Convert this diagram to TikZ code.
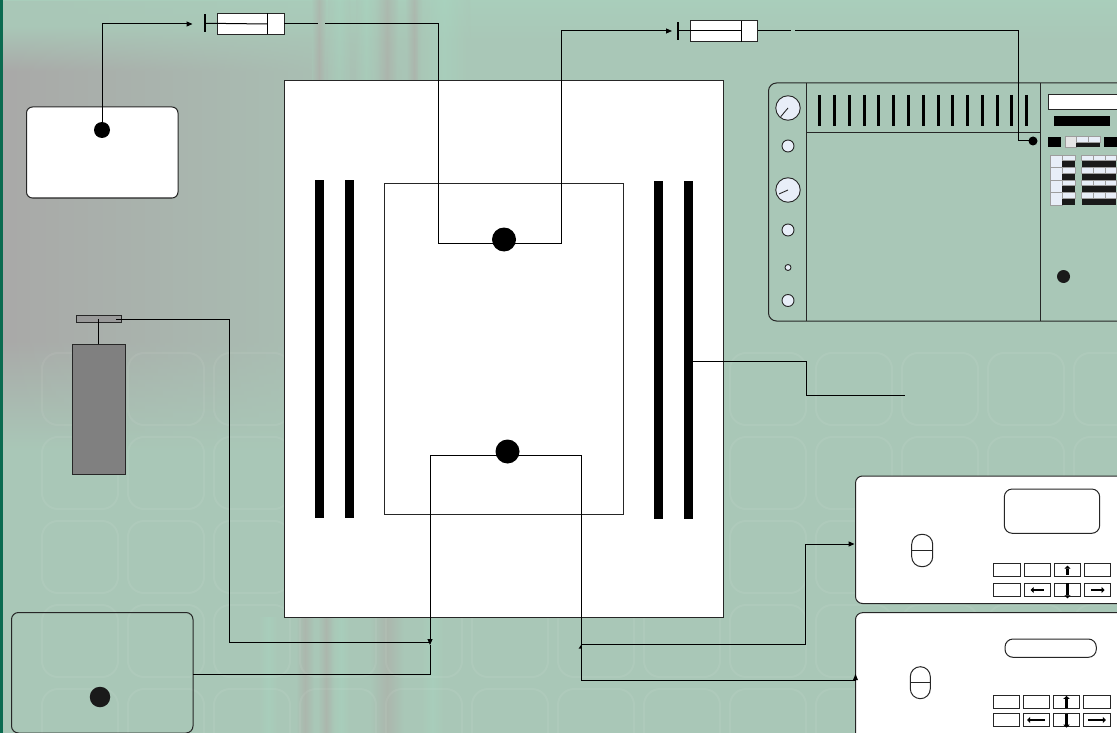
\documentclass[tikz,border=0pt]{standalone}
\usetikzlibrary{arrows.meta,fadings}
\definecolor{bggreen}{HTML}{A9C7B7}
\definecolor{bgmint}{HTML}{A8D6C0}
\definecolor{bggrey}{HTML}{A9A9A8}
\definecolor{bgpink}{HTML}{AFA4A2}
\definecolor{strip}{HTML}{0A6B50}
\definecolor{frame}{HTML}{262626}
\definecolor{pale}{HTML}{E8EEF8}
\definecolor{ink}{HTML}{1A1A1A}
\tikzfading[name=sidefade,left color=transparent!0,middle color=transparent!18,right color=transparent!100]
\pgfdeclareverticalshading{greyband}{100bp}{color(0bp)=(bggreen); color(44.3bp)=(bggreen); color(51.8bp)=(bggrey); color(70.25bp)=(bggrey); color(73.3bp)=(bggreen); color(100bp)=(bggreen)}
\newcommand{\bx}[6]{%
  \pgfmathsetmacro{\cxx}{(#3+#5)/2}\pgfmathsetmacro{\cyy}{(#4+#6)/2}%
  \pgfmathsetmacro{\wxx}{#5-#3}\pgfmathsetmacro{\hyy}{#6-#4}%
  \node[#2,minimum width=\wxx pt,minimum height=\hyy pt] (#1) at (\cxx,\cyy) {};}
\tikzset{
  x=1pt,y=-1pt,
  rect/.style={draw=frame,line width=1pt,inner sep=0pt,outer sep=0pt,rectangle},
  white box/.style={rect,fill=white},
  black box/.style={fill=black,inner sep=0pt,outer sep=0pt,rectangle},
  dark box/.style={fill=ink,inner sep=0pt,outer sep=0pt,rectangle},
  pale box/.style={draw=frame!45,line width=.4pt,fill=pale,inner sep=0pt,outer sep=0pt,rectangle},
  dot/.style={circle,fill=black,inner sep=0pt,outer sep=0pt},
  knob/.style={circle,draw=frame,line width=.9pt,fill=pale,inner sep=0pt,outer sep=0pt},
  wire/.style={draw=black,line width=1pt},
  arrowed/.style={wire,-{Triangle[length=6pt,width=5pt]}},
  glyph/.style={draw=black,line width=2.3pt,-{Triangle[length=3pt,width=6pt]}},
  tick/.style={draw=black,line width=3pt},
  tex/.style={draw=white,opacity=.06,line width=2pt,rounded corners=16pt},
  band/.style={opacity=.45,left color=bggreen,right color=bggreen,middle color=#1},
}
\begin{document}
\begin{tikzpicture}
\useasboundingbox (0,0) rectangle (1117,733);
\clip (0,0) rectangle (1117,733);
% background
\fill[bggreen] (0,0) rectangle (1117,733);
\shade[top color=bgmint!45!bggreen,bottom color=bggreen] (0,0) rectangle (1117,40);
\shade[shading=greyband,path fading=sidefade,fit fading=true] (3,0) rectangle (430,733);
\foreach \xl/\xr/\cc in {312/326/bgpink,328/350/bgmint,356/376/bgmint,376/398/bgpink,406/422/bgpink,418/470/bgmint}{
  \shade[band=\cc] (\xl,0) rectangle (\xr,82);}
\foreach \xl/\xr/\cc in {258/278/bgmint,296/314/bgpink,318/334/bgpink,332/350/bgmint,370/404/bgpink,420/445/bgmint}{
  \shade[band=\cc] (\xl,617) rectangle (\xr,733);}
\foreach \yy in {353,437,521,605,689}{
  \foreach \xx in {42,128,214,300,386,472,558,644,730,816,902,988,1074}{
    \draw[tex] (\xx,\yy) rectangle ++(76,72);}}
\fill[strip] (0,0) rectangle (3,733);

% main enclosure
\bx{chamber}{white box}{284}{81}{723}{617}
\bx{inner}{rect}{384}{184}{623}{514}
\bx{barA}{black box}{315}{180}{324}{518}
\bx{barB}{black box}{345}{180}{354}{518}
\bx{barC}{black box}{654}{181}{663}{519}
\bx{barD}{black box}{684}{181}{693}{519}

% supply box, top left
\bx{supply}{white box,rounded corners=6pt}{26.5}{107}{178}{198}
\node[dot,minimum size=16pt] (dotA) at (102,130) {};
\coordinate (tipA) at (192.5,24);
\draw[arrowed] (dotA.center) |- (tipA);

% syringe 1
\bx{stopA}{black box}{204.4}{14.5}{205.8}{32}
\bx{syrA}{white box}{217}{13.5}{284}{34.5}
\coordinate (pistA) at (267,13.5);
\coordinate (pistAb) at (267,34.5);
\draw[wire] (pistA) -- (pistAb);
\coordinate (rodA) at (267,24);
\draw[wire] (stopA.center) -- (rodA);
\coordinate (outA) at (318,24);
\draw[wire] (syrA.east |- rodA) -- (outA);

% syringe 2
\bx{stopB}{black box}{677.4}{22}{678.8}{40}
\bx{syrB}{white box}{690.5}{21}{757.5}{42}
\coordinate (pistB) at (741,21);
\coordinate (pistBb) at (741,42);
\draw[wire] (pistB) -- (pistBb);
\coordinate (rodB) at (741,31);
\draw[wire] (stopB.center) -- (rodB);
\coordinate (outB) at (791,31);
\draw[wire] (syrB.east |- rodB) -- (outB);

% upper sample
\node[dot,minimum size=24pt] (dotB) at (504,239.5) {};
\coordinate (inA) at (325,24);
\coordinate (cornA) at (438,243);
\coordinate (cornB) at (561,243);
\coordinate (tipB) at (672,31);
\draw[wire] (inA) -| (cornA) -- (dotB.center |- cornA);
\draw[arrowed] (dotB.center |- cornB) -- (cornB) |- (tipB);

% lower sample
\node[dot,minimum size=24pt] (dotC) at (507.5,451.5) {};
\coordinate (cornC) at (430,455);
\coordinate (cornD) at (581,455);
\coordinate (tipC) at (430,645);
\coordinate (cornE) at (581,680.5);
\draw[arrowed] (dotC.center |- cornC) -- (cornC) -- (tipC);
\draw[wire] (dotC.center |- cornD) -- (cornD) -- (cornE);

% panel
\draw[rect,rounded corners=8pt] (1140,83) -- (768.5,83) -- (768.5,321) -- (1140,321);
\coordinate (panelL) at (806.5,83); \coordinate (panelLb) at (806.5,321);
\coordinate (panelR) at (1040.5,83); \coordinate (panelRb) at (1040.5,321);
\draw[rect] (panelL) -- (panelLb);
\draw[rect] (panelR) -- (panelRb);
\coordinate (shelfL) at (806.5,132.5); \coordinate (shelfR) at (1040.5,132.5);
\draw[rect] (shelfL) -- (shelfR);
\foreach \i in {0,...,14}{
  \pgfmathsetmacro{\tx}{819.7+14.79*\i}
  \coordinate (tt\i) at (\tx,95); \coordinate (tb\i) at (\tx,125.7);
  \draw[tick] (tt\i) -- (tb\i);}
\node[knob,minimum size=24.5pt] (dialA) at (788,108) {};
\node[knob,minimum size=12pt] (knobA) at (788,146) {};
\node[knob,minimum size=24.5pt] (dialB) at (788,190) {};
\node[knob,minimum size=12pt] (knobB) at (788,230) {};
\node[knob,minimum size=6pt] (knobC) at (788,267.5) {};
\node[knob,minimum size=12pt] (knobD) at (788,300.5) {};
\coordinate (needA) at (780.7,116.7); \coordinate (needB) at (779,194);
\draw[line width=.9pt,draw=frame] (needA) -- (dialA.center);
\draw[line width=.9pt,draw=frame] (needB) -- (dialB.center);
\node[dot,minimum size=9pt] (dotP) at (1033,141) {};
\coordinate (inB) at (795,31);
\coordinate (cornF) at (1018,141);
\draw[wire] (inB) -| (cornF) -- (dotP);
\bx{dispP}{white box}{1048.3}{95}{1117.5}{110}
\bx{barP}{black box}{1054}{115.7}{1110.3}{125.7}
\bx{keyA}{black box}{1048}{136.7}{1061}{147}
\bx{keyB}{pale box,fill=white!90!black}{1065.3}{136.7}{1076}{147}
\bx{keyCb}{dark box}{1076}{142}{1088}{147}
\bx{keyCt}{pale box}{1076}{136.7}{1088}{142}
\bx{keyDb}{dark box}{1088}{142}{1100}{147}
\bx{keyDt}{pale box}{1088}{136.7}{1100}{142}
\bx{keyE}{black box}{1104}{136.7}{1117}{147}
\foreach \r in {0,1,2,3}{
  \pgfmathsetmacro{\ya}{155+12.5*\r}\pgfmathsetmacro{\yb}{\ya+12.5}\pgfmathsetmacro{\ym}{\ya+5.5}
  \bx{gl\r}{pale box}{1050}{\ya}{1062}{\yb}
  \bx{gmb\r}{dark box}{1062}{\ym}{1074.7}{\yb}
  \bx{gmt\r}{pale box}{1062}{\ya}{1074.7}{\ym}
  \foreach \c in {0,1,2}{
    \pgfmathsetmacro{\xa}{1081.5+11.6*\c}\pgfmathsetmacro{\xb}{\xa+11.6}
    \bx{gb\r\c}{dark box}{\xa}{\ym}{\xb}{\yb}
    \bx{gt\r\c}{pale box}{\xa}{\ya}{\xb}{\ym}
  }}
\node[circle,fill=ink,inner sep=0pt,outer sep=0pt,minimum size=13pt] (dotQ) at (1063.5,276.5) {};

% lead from plate
\coordinate (leadA) at (806,361); \coordinate (leadB) at (905,395);
\coordinate (plate) at (693,361);
\draw[wire] (plate) -- (leadA) |- (leadB);

% gas cylinder
\bx{cyl}{rect,fill=black!50}{72}{344}{125}{474}
\bx{reg}{rect,fill=black!40}{76.5}{315}{121}{322.5}
\coordinate (stem) at (98.5,319);
\draw[wire] (stem) -- (cyl.north);
\coordinate (regOut) at (116,319);
\coordinate (cornG) at (229.5,319);
\coordinate (cornH) at (229.5,642.3);
\coordinate (endH) at (430,642.3);
\draw[wire] (regOut) -- (cornG) -- (cornH) -- (endH);

% box bottom left
\bx{pump}{rect,rounded corners=7pt}{11.5}{612.5}{193}{733}
\node[dot,fill=ink,minimum size=20.5pt] (dotR) at (100,697) {};
\coordinate (cornI) at (430,674.5);
\coordinate (endI) at (430,645);
\draw[wire] (pump.east |- cornI) -- (cornI) -- (endI);

% device 1
\bx{devA}{white box,rounded corners=7pt}{855.5}{476}{1130}{603.5}
\bx{dispA}{rect,rounded corners=8pt}{1004.3}{489}{1099.7}{533.3}
\bx{swA}{rect,rounded corners=10pt}{911.7}{534.3}{932.7}{566.7}
\draw[rect] (swA.west) -- (swA.east);
\foreach \n/\xa/\xb in {a/993.7/1020,b/1024/1050.3,c/1054.3/1080.7,d/1084.3/1110.7}{
  \bx{upA\n}{rect}{\xa}{563.7}{\xb}{576.7}
  \bx{loA\n}{rect}{\xa}{583.3}{\xb}{596.7}}
\draw[glyph] (upAc.south) ++(0,-2) -- ++(0,-9);
\draw[glyph] (loAb.center) ++(6.5,0) -- ++(-13,0);
\draw[glyph] (loAc.north) ++(0,0) -- ++(0,15);
\draw[glyph] (loAd.center) ++(-6.5,0) -- ++(13.5,0);

% device 2
\bx{devB}{white box,rounded corners=7pt}{855.5}{612.7}{1130}{750}
\bx{dispB}{rect,rounded corners=8pt}{1005}{639}{1096.3}{657.3}
\bx{swB}{rect,rounded corners=10pt}{910.3}{666.7}{930.3}{698.7}
\draw[rect] (swB.west) -- (swB.east);
\foreach \n/\xa/\xb in {a/993/1019,b/1023/1049.3,c/1053.3/1079.7,d/1083.7/1110}{
  \bx{upB\n}{rect}{\xa}{695.7}{\xb}{708.3}
  \bx{loB\n}{rect}{\xa}{713.7}{\xb}{726.3}}
\draw[glyph] (upBc.south) -- ++(0,-12.5);
\draw[glyph] (loBb.center) ++(9,0) -- ++(-18,0);
\draw[glyph] (loBc.north) -- ++(0,14);
\draw[glyph] (loBd.center) ++(-9,0) -- ++(18,0);

% wires to devices
\coordinate (startJ) at (581,644.3);
\coordinate (cornJ) at (805,644.3);
\coordinate (tipJ) at (854.5,544);
\draw[arrowed] (startJ) -- (cornJ) |- (tipJ);
\fill (578.6,648.6) -- (581,645) -- (581,648.6) -- cycle;
\coordinate (cornK) at (855.5,680.5);
\draw[wire] (cornE) -- (cornK);
\fill (853,680) -- (858,680) -- (855.5,674) -- cycle;
\end{tikzpicture}
\end{document}
